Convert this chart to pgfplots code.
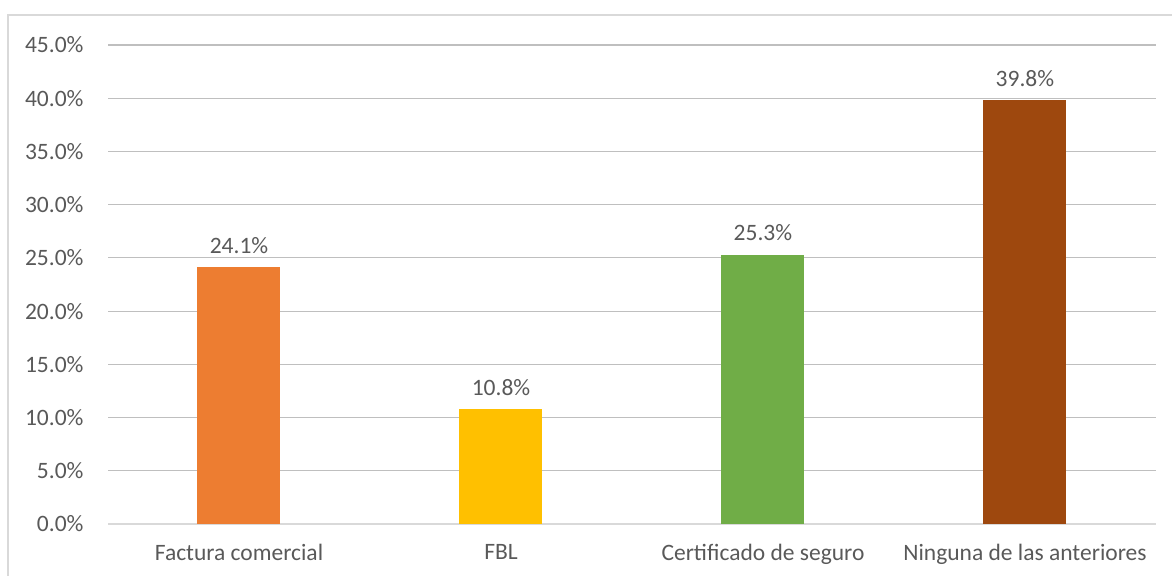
\documentclass[border=0pt]{standalone}
\usepackage{pgfplots}
\pgfplotsset{compat=1.18}
\usepackage{fontspec}
\setmainfont{Carlito}
\definecolor{txt}{HTML}{595959}
\definecolor{grid}{HTML}{D9D9D9}
\definecolor{c1}{HTML}{ED7D31}
\definecolor{c2}{HTML}{FFC000}
\definecolor{c3}{HTML}{70AD47}
\definecolor{c4}{HTML}{9E480E}
\begin{document}
\begin{tikzpicture}
\useasboundingbox (0bp,0bp) rectangle (1172bp,576bp);
\draw[grid,line width=1.2bp] (8bp,-20bp) -- (8bp,561bp) -- (1190bp,561bp);
\begin{axis}[
  at={(108bp,52bp)}, anchor=south west,
  scale only axis, width=1048bp, height=479bp,
  ybar, bar width=83bp, bar shift=0pt,
  xmin=-0.5, xmax=3.5, ymin=0, ymax=45,
  xtick={0,1,2,3},
  xticklabels={Factura comercial, FBL, Certificado de seguro, Ninguna de las anteriores},
  ytick={0,5,...,45},
  yticklabel={\pgfmathprintnumber[fixed,fixed zerofill,precision=1]{\tick}\%},
  /pgf/number format/assume math mode=true,
  xmajorgrids=false, ymajorgrids=true, grid style={grid,line width=1.2bp},
  axis x line*=bottom, axis y line*=left,
  x axis line style={grid,line width=1.2bp,-},
  y axis line style={draw=none},
  major tick length=0pt,
  xtick style={draw=none}, ytick style={draw=none},
  tick label style={font=\fontsize{23.5bp}{26bp}\selectfont, text=txt},
  xticklabel style={yshift=-17bp},
  yticklabel style={xshift=-21bp},
  nodes near coords={\pgfmathprintnumber[fixed,fixed zerofill,precision=1]{\pgfplotspointmeta}\%},
  nodes near coords style={font=\fontsize{23.5bp}{26bp}\selectfont, text=txt, yshift=10bp},
]
\addplot[fill=c1,draw=none] coordinates {(0,24.1)};
\addplot[fill=c2,draw=none] coordinates {(1,10.8)};
\addplot[fill=c3,draw=none] coordinates {(2,25.3)};
\addplot[fill=c4,draw=none] coordinates {(3,39.8)};
\end{axis}
\end{tikzpicture}
\end{document}
